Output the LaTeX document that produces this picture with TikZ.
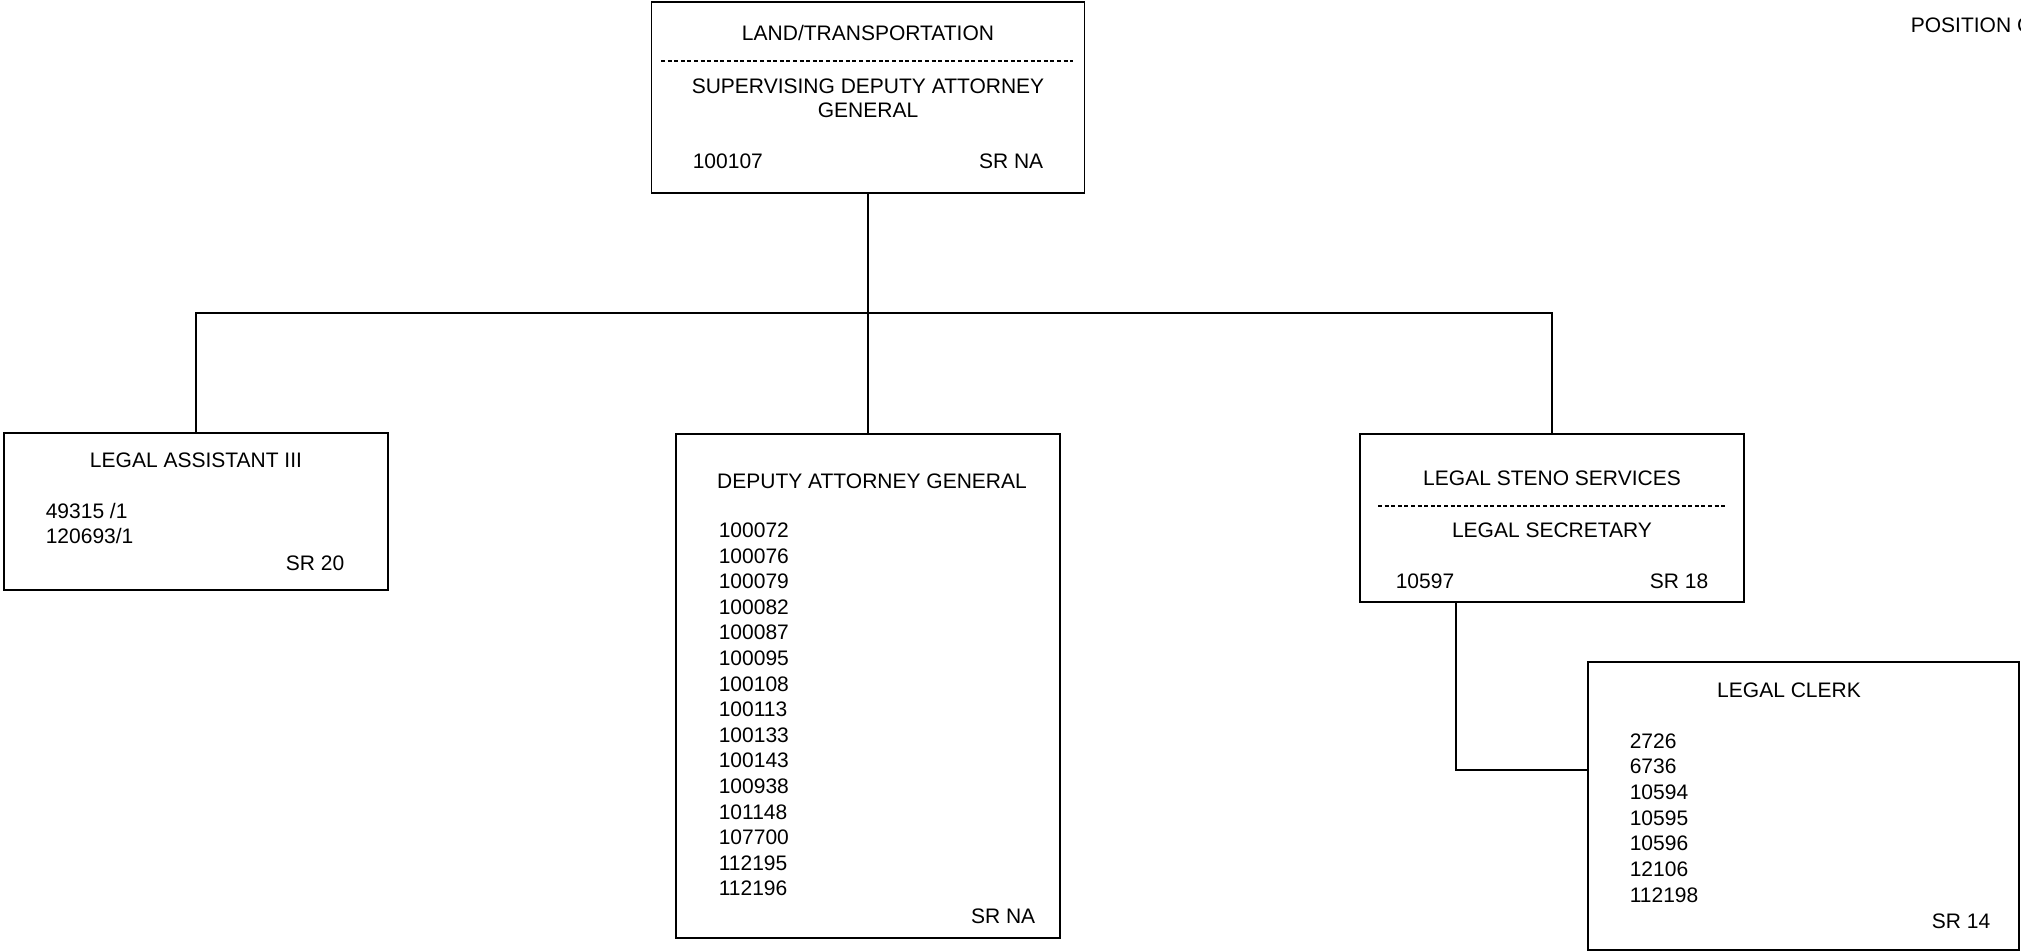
\documentclass[tikz,border=0pt]{standalone}
\usepackage{fontspec}
\setmainfont{Liberation Sans}

\begin{document}
\begin{tikzpicture}[x=1pt,y=-1pt,line width=1.6pt,font={\fontsize{21}{25.3}\selectfont},
  pbox/.style={draw,rectangle,inner sep=0pt},
  ctxt/.style={inner sep=0pt,anchor=base},
  ltxt/.style={inner sep=0pt,anchor=base west},
  rtxt/.style={inner sep=0pt,anchor=base east},
  sep/.style={line width=1.1pt,dash pattern=on 4pt off 2.6pt}]

  \useasboundingbox (0,0) rectangle (2021,952);

  % position boxes
  \node[pbox,minimum width=433pt,minimum height=191pt] (sdag) at (868,97.5) {};
  \node[pbox,minimum width=384pt,minimum height=157pt] (la) at (196,511.5) {};
  \node[pbox,minimum width=384pt,minimum height=504pt] (dag) at (868,686) {};
  \node[pbox,minimum width=384pt,minimum height=168pt] (lss) at (1552,518) {};
  \node[pbox,minimum width=431pt,minimum height=288pt] (lc) at (1803.5,806) {};

  \node[ltxt] (poshead) at (1910,33) {POSITION C};

  % supervising deputy
  \node[ctxt] (sdag-unit) at (868,40.5) {LAND/TRANSPORTATION};
  \draw[sep] (661,61) -- (1073,61);
  \node[ctxt] (sdag-t1) at (868,94) {SUPERVISING DEPUTY ATTORNEY};
  \node[ctxt] (sdag-t2) at (868,117.5) {GENERAL};
  \node[ltxt] (sdag-num) at (692,169) {100107};
  \node[rtxt] (sdag-sr) at (1044,169) {SR NA};

  % legal assistant
  \node[ctxt] (la-title) at (196,467) {LEGAL ASSISTANT III};
  \node[ltxt] (la-1) at (45,518) {49315 /1};
  \node[ltxt] (la-2) at (45,543) {120693/1};
  \node[rtxt] (la-sr) at (345,570) {SR 20};

  % deputy attorney general
  \node[ctxt] (dag-title) at (872,488) {DEPUTY ATTORNEY GENERAL};
  \foreach \num [count=\i from 0] in {100072,100076,100079,100082,100087,100095,100108,
    100113,100133,100143,100938,101148,107700,112195,112196}
    \node[ltxt] (dag-\i) at (718,537.5+25.6*\i) {\num};
  \node[rtxt] (dag-sr) at (1036,923) {SR NA};

  % legal steno
  \node[ctxt] (lss-unit) at (1552,485) {LEGAL STENO SERVICES};
  \draw[sep] (1378,506) -- (1725,506);
  \node[ctxt] (lss-title) at (1552,537) {LEGAL SECRETARY};
  \node[ltxt] (lss-num) at (1395,588) {10597};
  \node[rtxt] (lss-sr) at (1709,588) {SR 18};

  % legal clerk
  \node[ctxt] (lc-title) at (1789,697) {LEGAL CLERK};
  \foreach \num [count=\i from 0] in {2726,6736,10594,10595,10596,12106,112198}
    \node[ltxt] (lc-\i) at (1629,748+25.7*\i) {\num};
  \node[rtxt] (lc-sr) at (1991,928) {SR 14};

  % lines
  \coordinate (bus) at (sdag.south |- 0,313);
  \coordinate (lcjoin) at (lc.west |- 0,770);
  \draw (sdag.south) -- (bus);
  \draw (la.north) |- (bus) -| (lss.north);
  \draw (bus) -- (dag.north);
  \draw (lss.south -| 1456,0) |- (lcjoin);

\end{tikzpicture}
\end{document}
